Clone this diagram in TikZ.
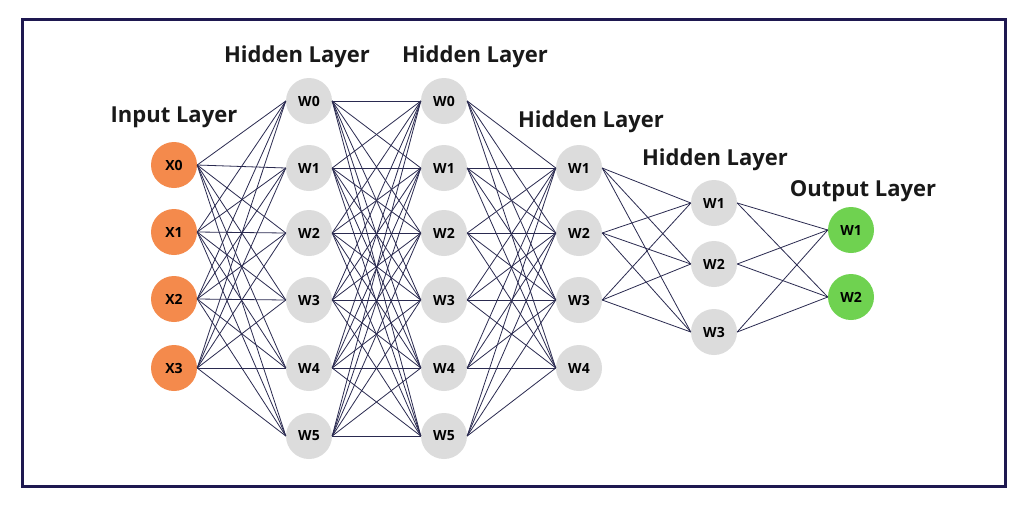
\documentclass[tikz,border=0pt]{standalone}
\usepackage{fontspec}
\setmainfont{Open Sans}
\definecolor{frame}{HTML}{1E1850}
\definecolor{edge}{HTML}{2A2A50}
\definecolor{inp}{HTML}{F48A4C}
\definecolor{hid}{HTML}{DCDCDC}
\definecolor{outc}{HTML}{6FD250}
\tikzset{
  neuron/.style={circle,minimum size=46pt,inner sep=0pt,font=\fontsize{14}{16}\selectfont\bfseries,text=black},
  inneuron/.style={neuron,fill=inp},
  hidneuron/.style={neuron,fill=hid},
  outneuron/.style={neuron,fill=outc},
  layerlabel/.style={font=\fontsize{22}{26}\selectfont\bfseries,text=black!90},
  conn/.style={draw=edge,line width=0.8pt}
}
\begin{document}
\begin{tikzpicture}[x=1pt,y=-1pt]
\useasboundingbox (0,0) rectangle (1024,512);
\fill[white] (0,0) rectangle (1024,512);
\draw[frame,line width=3pt] (22,19) rectangle (1005,486);
% labels
\node[layerlabel] (lin) at (174,117) {Input Layer};
\node[layerlabel] (lh1) at (297,57) {Hidden Layer};
\node[layerlabel] (lh2) at (475,57) {Hidden Layer};
\node[layerlabel] (lh3) at (591,122) {Hidden Layer};
\node[layerlabel] (lh4) at (715,160) {Hidden Layer};
\node[layerlabel] (lout) at (863,191) {Output Layer};
% input
\foreach \i/\y in {0/165,1/232,2/299,3/368}
  \node[inneuron] (x\i) at (174,\y) {X\i};
% hidden 1
\foreach \i/\y in {0/101,1/168,2/233,3/300,4/368,5/436}
  \node[hidneuron] (a\i) at (309,\y) {W\i};
% hidden 2
\foreach \i/\y in {0/101,1/168,2/233,3/300,4/368,5/436}
  \node[hidneuron] (b\i) at (444,\y) {W\i};
% hidden 3
\foreach \i/\y in {1/168,2/233,3/300,4/368}
  \node[hidneuron] (c\i) at (579,\y) {W\i};
% hidden 4
\foreach \i/\y in {1/203,2/264,3/332}
  \node[hidneuron] (d\i) at (714,\y) {W\i};
% output
\foreach \i/\y in {1/230,2/297}
  \node[outneuron] (o\i) at (851,\y) {W\i};
% connections
\foreach \i in {0,...,3}
  \foreach \j in {0,...,5}
    \draw[conn] (x\i.east) -- (a\j.west);
\foreach \i in {0,...,5}
  \foreach \j in {0,...,5}
    \draw[conn] (a\i.east) -- (b\j.west);
\foreach \i in {0,...,5}
  \foreach \j in {1,...,4}
    \draw[conn] (b\i.east) -- (c\j.west);
\foreach \i in {1,...,3}
  \foreach \j in {1,...,3}
    \draw[conn] (c\i.east) -- (d\j.west);
\foreach \i in {1,...,3}
  \foreach \j in {1,2}
    \draw[conn] (d\i.east) -- (o\j.west);
\end{tikzpicture}
\end{document}
